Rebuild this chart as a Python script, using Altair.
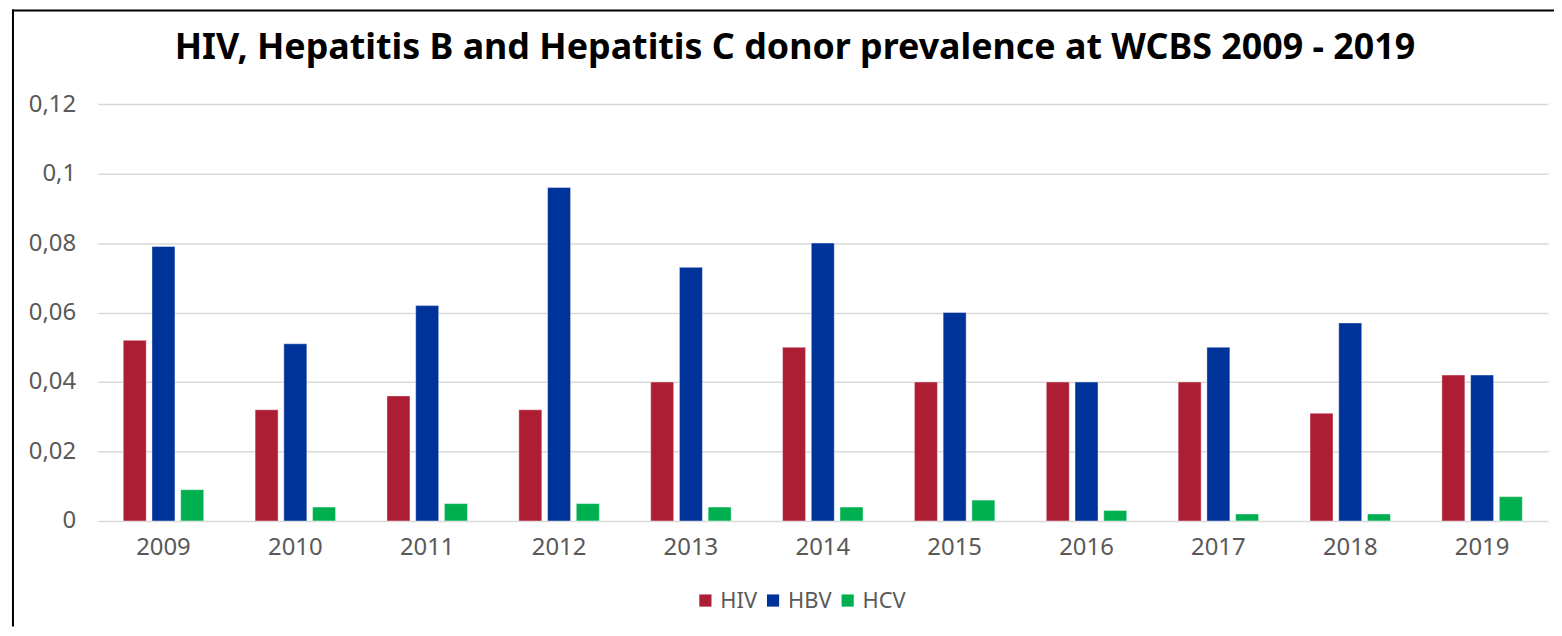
import altair as alt
import pandas as pd

years = ["2009", "2010", "2011", "2012", "2013", "2014", "2015", "2016", "2017", "2018", "2019"]
hiv = [0.052, 0.032, 0.036, 0.032, 0.040, 0.050, 0.040, 0.040, 0.040, 0.031, 0.042]
hbv = [0.079, 0.051, 0.062, 0.096, 0.073, 0.080, 0.060, 0.040, 0.050, 0.057, 0.042]
hcv = [0.009, 0.004, 0.005, 0.005, 0.004, 0.004, 0.006, 0.003, 0.002, 0.002, 0.007]
series = ["HIV", "HBV", "HCV"]
colors = ["#AD1E35", "#003399", "#00B050"]
y_ticks = [0, 0.02, 0.04, 0.06, 0.08, 0.1, 0.12]
title_text = "HIV, Hepatitis B and Hepatitis C donor prevalence at WCBS 2009 - 2019"

rows = []
for name, vals in zip(series, [hiv, hbv, hcv]):
    for yr, v in zip(years, vals):
        rows.append({"Year": yr, "Series": name, "Value": v})
df = pd.DataFrame(rows)

FONT = "Noto Sans"
GRAY = "#595959"

bars = alt.Chart(df).mark_bar(stroke="white", strokeWidth=0.8, strokeOpacity=0.5).encode(
    x=alt.X("Year:N", sort=years,
            scale=alt.Scale(paddingInner=0.39, paddingOuter=0.195),
            axis=alt.Axis(title=None, labelAngle=0, ticks=False, domain=False, grid=False,
                          labelFont=FONT, labelFontSize=24, labelColor=GRAY, labelPadding=15)),
    xOffset=alt.XOffset("Series:N", sort=series, scale=alt.Scale(paddingInner=0.2, paddingOuter=0)),
    y=alt.Y("Value:Q", scale=alt.Scale(domain=[0, 0.12], nice=False),
            axis=alt.Axis(title=None, values=y_ticks, format=".2~f",
                          labelExpr="replace(datum.label, '.', ',')",
                          ticks=False, domain=False, grid=True, gridColor="#D9D9D9", gridWidth=1.5,
                          labelFont=FONT, labelFontSize=24, labelColor=GRAY, labelPadding=22)),
    color=alt.Color("Series:N", sort=series,
                    scale=alt.Scale(domain=series, range=colors),
                    legend=alt.Legend(title=None, orient="none", direction="horizontal",
                                      legendX=600, legendY=488, symbolType="square", symbolSize=150,
                                      symbolStrokeWidth=0, labelFont=FONT, labelFontSize=22,
                                      labelColor=GRAY, labelOffset=4, columnPadding=5)),
)

title = alt.Chart(alt.Data(values=[{"t": title_text}])).mark_text(
    font=FONT, fontSize=36, fontWeight="bold", color="black", align="center", baseline="alphabetic"
).encode(text="t:N", x=alt.value(701), y=alt.value(-45))

frame = alt.Data(values=[{"k": 1}])
left_border = alt.Chart(frame).mark_rule(color="black", strokeWidth=2).encode(
    x=alt.value(-85), y=alt.value(-95), y2=alt.value(525))
top_border = alt.Chart(frame).mark_rule(color="black", strokeWidth=2).encode(
    x=alt.value(-86), x2=alt.value(1464), y=alt.value(-94))

chart = alt.layer(bars, title, left_border, top_border).properties(
    width=1458, height=419,
    autosize=alt.AutoSizeParams(type="none"),
    padding={"left": 90, "top": 95, "right": 6, "bottom": 106},
).configure_view(stroke=None)

chart.save("out.html", embed_options={"renderer": "svg", "actions": False})
